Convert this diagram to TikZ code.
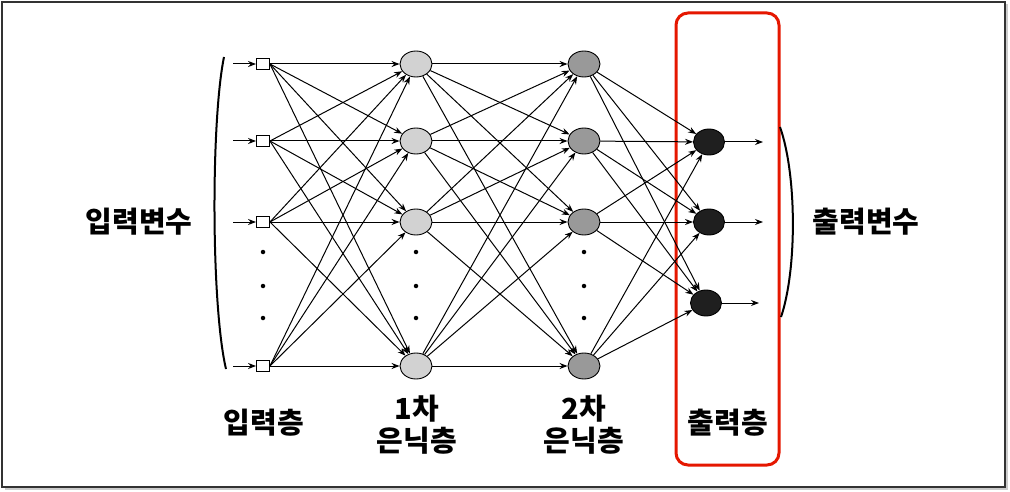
\documentclass[tikz,border=0pt]{standalone}
\usepackage{fontspec}
\newfontfamily\kr{Noto Sans CJK KR}[BoldFont={Noto Sans CJK KR Black}]
\usetikzlibrary{arrows.meta,shapes.geometric}
\begin{document}
\begin{tikzpicture}[x=1pt,y=-1pt,
  conn/.style={line width=1pt,-{Stealth[length=8pt,width=6pt]}},
  inp/.style={draw,fill=white,minimum width=13pt,minimum height=11pt,inner sep=0pt,line width=0.9pt},
  hida/.style={ellipse,draw,fill=gray!35,minimum width=32pt,minimum height=26pt,inner sep=0pt,line width=0.9pt},
  hidb/.style={ellipse,draw,fill=gray!80,minimum width=32pt,minimum height=26pt,inner sep=0pt,line width=0.9pt},
  outn/.style={ellipse,draw,fill=black!88,minimum width=31pt,minimum height=26pt,inner sep=0pt,line width=0.9pt},
  lbl/.style={font=\kr\bfseries\fontsize{29}{32}\selectfont,align=center,inner sep=0pt},
  dot/.style={circle,fill=black,inner sep=0pt,minimum size=4.5pt}]
\useasboundingbox (0,0) rectangle (1010,492);
% frame
\draw[gray!40,line width=2pt] (5,489) -- (1007,489) -- (1007,4);
\draw[black!80,line width=1.2pt] (2,2) rectangle (1005,487);
% red box
\draw[red!80!orange!90!black,line width=3pt,rounded corners=12pt] (676,13) rectangle (779,465);
% nodes
\foreach \k/\y in {1/64,2/141,3/222,4/366}{
  \node[inp] (i\k) at (263,\y) {};
  \node[hida] (a\k) at (416,\y) {};
  \node[hidb] (b\k) at (584,\y) {};
  \coordinate (s\k) at (233,\y);
}
\node[outn] (o1) at (709,142) {};
\node[outn] (o2) at (709,222) {};
\node[outn] (o3) at (706,303) {};
\coordinate (e1) at (763,142);
\coordinate (e2) at (763,222);
\coordinate (e3) at (759,303);
% dots
\foreach \x in {263,416,584}{
  \foreach \y in {252,286,318}{
    \node[dot] at (\x,\y) {};
  }
}
% connections
\foreach \k in {1,...,4}{
  \draw[conn] (s\k) -- (i\k);
  \foreach \j in {1,...,4}{
    \draw[conn] (i\k.east) -- (a\j);
    \draw[conn] (a\k) -- (b\j);
  }
  \foreach \j in {1,2,3}{
    \draw[conn] (b\k) -- (o\j);
  }
}
\foreach \j in {1,2,3}{
  \draw[conn] (o\j) -- (e\j);
}
% brackets
\coordinate (lt) at (224,57);
\coordinate (lb) at (226,369);
\draw[line width=2pt] (lt) .. controls (211,120) and (211,305) .. (lb);
\coordinate (rt) at (780,127);
\coordinate (rb) at (781,317);
\draw[line width=2pt] (rt) .. controls (797,175) and (797,270) .. (rb);
% labels
\node[lbl] (lin) at (139,222) {입력변수};
\node[lbl] (lout) at (866,222) {출력변수};
\node[lbl] (l1) at (264,423) {입력층};
\node[lbl] (l2) at (417,425) {1차\\은닉층};
\node[lbl] (l3) at (584,425) {2차\\은닉층};
\node[lbl] (l4) at (728,423) {출력층};
\end{tikzpicture}
\end{document}
